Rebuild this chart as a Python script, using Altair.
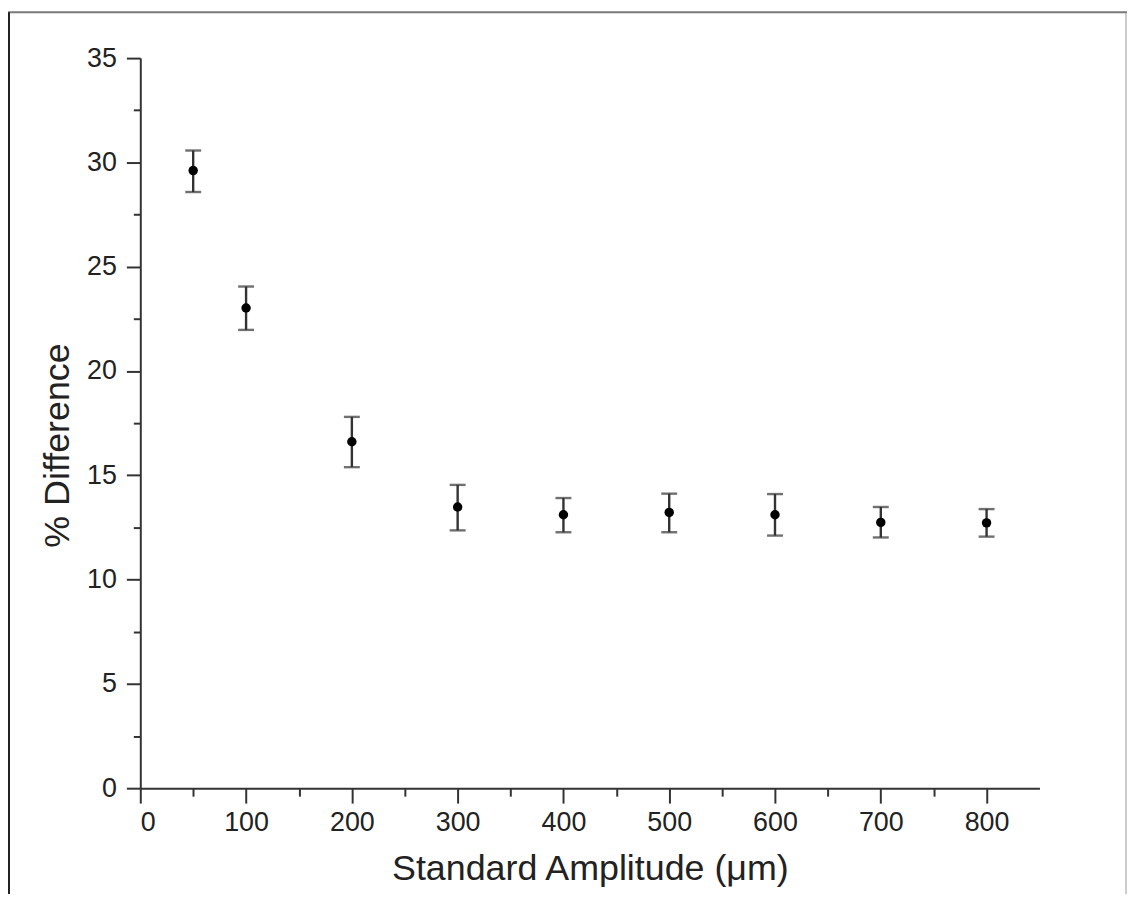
import altair as alt
import pandas as pd

amplitude = [50, 100, 200, 300, 400, 500, 600, 700, 800]
pct_diff = [29.61, 23.02, 16.61, 13.48, 13.11, 13.22, 13.11, 12.74, 12.72]
err_high = [30.57, 24.05, 17.80, 14.54, 13.91, 14.12, 14.10, 13.48, 13.38]
err_low = [28.58, 21.97, 15.39, 12.36, 12.27, 12.27, 12.11, 12.02, 12.06]

x_ticks = [v * 50 for v in range(0, 17)]
y_ticks = [v * 2.5 for v in range(0, 15)]

df = pd.DataFrame({"amp": amplitude, "diff": pct_diff, "hi": err_high, "lo": err_low})

FONT = "Liberation Sans"
AX = "#333333"

x_scale = alt.Scale(domain=[0, 850], nice=False, zero=False)
y_scale = alt.Scale(domain=[0, 35], nice=False, zero=False)

x_axis = alt.Axis(
    values=x_ticks,
    labelExpr="datum.value % 100 === 0 ? datum.label : ''",
    tickSize={"condition": {"test": "datum.value % 100 === 0", "value": 15}, "value": 8},
    labelPadding=7,
    title="Standard Amplitude (\u03bcm)",
    titlePadding=16,
    grid=False,
)
y_axis = alt.Axis(
    values=y_ticks,
    labelExpr="datum.value % 5 === 0 ? datum.label : ''",
    tickSize={"condition": {"test": "datum.value % 5 === 0", "value": 14}, "value": 7},
    labelPadding=10,
    title="% Difference",
    titlePadding=10,
    titleY=389,
    grid=False,
)

base = alt.Chart(df)
x_enc = alt.X("amp:Q", scale=x_scale, axis=x_axis)

bars = base.mark_rule(color=AX, strokeWidth=2.4).encode(
    x=x_enc,
    y=alt.Y("lo:Q", scale=y_scale, axis=y_axis),
    y2="hi:Q",
)
cap_hi = base.mark_tick(color=AX, thickness=2.4, size=16, orient="horizontal").encode(
    x="amp:Q", y="hi:Q"
)
cap_lo = base.mark_tick(color=AX, thickness=2.4, size=16, orient="horizontal").encode(
    x="amp:Q", y="lo:Q"
)
points = base.mark_point(filled=True, color="#000000", size=90, opacity=1, shape="circle").encode(
    x="amp:Q", y="diff:Q"
)

frame_df = pd.DataFrame({"k": [0]})
frame_top = alt.Chart(frame_df).mark_rule(color="#7a7a7a", strokeWidth=2).encode(
    x=alt.value(-133), x2=alt.value(992), y=alt.value(-46)
)
frame_left = alt.Chart(frame_df).mark_rule(color="#222222", strokeWidth=2).encode(
    x=alt.value(-132), y=alt.value(-46), y2=alt.value(860)
)
frame_right = alt.Chart(frame_df).mark_rule(color="#9a9a9a", strokeWidth=1).encode(
    x=alt.value(991), y=alt.value(-46), y2=alt.value(860)
)

chart = (
    alt.layer(bars, cap_hi, cap_lo, points, frame_top, frame_left, frame_right)
    .properties(
        width=904,
        height=734,
        autosize=alt.AutoSizeParams(type="none"),
        padding={"left": 133, "top": 48, "right": 88, "bottom": 104},
        background="white",
    )
    .configure_view(stroke=None)
    .configure_axis(
        domainColor=AX,
        domainWidth=2,
        tickColor=AX,
        tickWidth=2,
        labelFont=FONT,
        labelFontSize=27,
        labelColor="#222222",
        labelOverlap=False,
        titleFont=FONT,
        titleFontSize=36,
        titleFontWeight="normal",
        titleColor="#222222",
    )
)

chart.save("out.html", embed_options={"renderer": "svg", "actions": False})
